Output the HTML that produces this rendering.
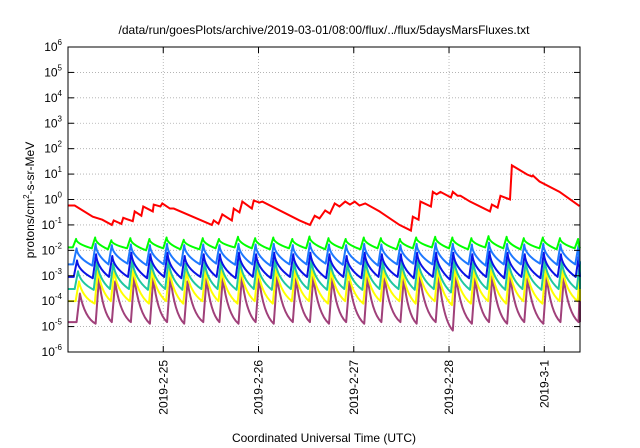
<!DOCTYPE html>
<html><head><meta charset="utf-8"><style>
html,body{margin:0;padding:0;background:#fff;}
svg{display:block;font-family:"Liberation Sans",sans-serif;}
</style></head><body>
<svg id="chart" width="640" height="448" viewBox="0 0 640 448" xmlns="http://www.w3.org/2000/svg">
<rect width="640" height="448" fill="#fff"/>
<text x="324" y="34" font-size="12" text-anchor="middle">/data/run/goesPlots/archive/2019-03-01/08:00/flux/../flux/5daysMarsFluxes.txt</text>
<text x="324" y="442" font-size="12" text-anchor="middle">Coordinated Universal Time (UTC)</text>
<text transform="translate(34,200) rotate(-90)" font-size="12" text-anchor="middle">protons/cm<tspan font-size="8" dy="-5">2</tspan><tspan dy="5">-s-sr-MeV</tspan></text>
<g id="grid"></g><g id="series"></g><g id="axes"></g>
</svg>
<script>
const xTickLabels=["2019-2-25","2019-2-26","2019-2-27","2019-2-28","2019-3-1"];
const xTickDays=[1,2,3,4,5];
const yTickExps=[-6,-5,-4,-3,-2,-1,0,1,2,3,4,5,6];
const redDays=[0,0.07,0.26,0.36,0.46,0.48,0.56,0.58,0.68,0.70,0.77,0.79,0.89,0.90,0.97,0.99,1.07,1.11,1.51,1.53,1.58,1.62,1.72,1.74,1.80,1.83,1.93,1.95,2.01,2.04,2.43,2.54,2.59,2.64,2.70,2.75,2.80,2.85,2.91,2.96,3.01,3.06,3.12,3.27,3.48,3.60,3.62,3.68,3.70,3.81,3.83,3.87,3.91,4.02,4.04,4.09,4.12,4.22,4.43,4.45,4.51,4.54,4.64,4.66,4.82,4.87,4.88,4.95,5.16,5.37];
const redVals=[0.58,0.58,0.21,0.16,0.10,0.15,0.11,0.19,0.14,0.34,0.23,0.53,0.34,0.63,0.53,0.70,0.44,0.44,0.10,0.15,0.11,0.26,0.15,0.44,0.31,0.83,0.44,0.91,0.76,0.83,0.15,0.10,0.23,0.18,0.37,0.28,0.70,0.53,0.83,0.63,0.83,0.58,0.70,0.34,0.10,0.06,0.21,0.16,0.83,0.53,2.0,1.6,2.0,1.2,2.0,1.4,1.4,0.83,0.34,0.63,0.48,1.4,1.0,22,9.6,8.1,8.8,5.1,2.0,0.55];
const peakDays=[0.05,0.25,0.42,0.62,0.82,1.0,1.18,1.38,1.55,1.75,1.93,2.12,2.32,2.50,2.70,2.88,3.07,3.25,3.45,3.62,3.82,4.0,4.2,4.38,4.57,4.75,4.95,5.13,5.32];
const greenPeak=[0.028,0.032,0.025,0.030,0.028,0.032,0.026,0.030,0.028,0.034,0.030,0.032,0.028,0.035,0.030,0.028,0.032,0.030,0.028,0.032,0.034,0.032,0.030,0.036,0.034,0.030,0.032,0.030,0.028];
const greenLow=[0.013,0.012,0.011,0.012,0.010,0.012,0.011,0.011,0.012,0.013,0.012,0.011,0.012,0.012,0.011,0.012,0.011,0.012,0.011,0.012,0.013,0.012,0.011,0.013,0.012,0.011,0.012,0.011,0.012];
const lblPeak=[0.012,0.018,0.016,0.017,0.016,0.018,0.016,0.017,0.016,0.018,0.017,0.018,0.016,0.019,0.017,0.016,0.018,0.017,0.016,0.018,0.019,0.018,0.017,0.020,0.018,0.017,0.018,0.017,0.016];
const lblLow=[0.0028,0.0025,0.0028,0.003,0.0026,0.0028,0.0025,0.0028,0.003,0.0027,0.0028,0.0025,0.0028,0.0028,0.003,0.0027,0.0028,0.0025,0.0028,0.003,0.0028,0.0026,0.0028,0.0025,0.0028,0.0028,0.003,0.0027,0.0028];
const bluePeak=[0.004,0.007,0.006,0.008,0.007,0.008,0.006,0.007,0.007,0.008,0.007,0.008,0.007,0.008,0.007,0.006,0.008,0.007,0.007,0.008,0.008,0.008,0.007,0.009,0.008,0.007,0.008,0.007,0.007];
const blueLow=[0.0009,0.0008,0.0009,0.0009,0.0008,0.0009,0.0008,0.0009,0.0009,0.0008,0.0009,0.0008,0.0009,0.0009,0.0008,0.0009,0.0008,0.0009,0.0009,0.0008,0.0009,0.0007,0.0008,0.0009,0.0008,0.0009,0.0008,0.0009,0.0009];
const tealPeak=[0.0015,0.0035,0.003,0.004,0.0035,0.004,0.003,0.0035,0.0035,0.004,0.0035,0.004,0.0035,0.004,0.0035,0.003,0.004,0.0035,0.0035,0.004,0.004,0.004,0.0035,0.0045,0.004,0.0035,0.004,0.0035,0.0035];
const tealLow=[0.0003,0.00028,0.0003,0.0003,0.00028,0.0003,0.00028,0.0003,0.0003,0.00028,0.0003,0.00028,0.0003,0.0003,0.00028,0.0003,0.00028,0.0003,0.0003,0.00028,0.0003,0.00022,0.00028,0.0003,0.00028,0.0003,0.00028,0.0003,0.0003];
const yelPeak=[0.0006,0.0018,0.0015,0.002,0.0018,0.002,0.0015,0.0018,0.0018,0.002,0.0018,0.002,0.0018,0.002,0.0018,0.0015,0.002,0.0018,0.0018,0.002,0.002,0.002,0.0018,0.0022,0.002,0.0018,0.002,0.0018,0.0018];
const yelLow=[0.0001,0.00008,0.0001,0.0001,0.00008,0.0001,0.00008,0.0001,0.0001,0.00008,0.0001,0.00008,0.0001,0.0001,0.00008,0.0001,0.00008,0.0001,0.0001,0.00008,0.0001,0.00007,0.00008,0.0001,0.00008,0.0001,0.00008,0.0001,0.0001];
const purPeak=[0.0002,0.0008,0.0006,0.0009,0.0008,0.0009,0.0006,0.0008,0.0008,0.0009,0.0008,0.0009,0.0008,0.0009,0.0008,0.0006,0.0009,0.0008,0.0008,0.0009,0.0009,0.0009,0.0008,0.001,0.0009,0.0008,0.0009,0.0008,0.0008];
const purLow=[0.000015,0.000013,0.000015,0.000015,0.000013,0.000015,0.000013,0.000015,0.000015,0.000013,0.000015,0.000013,0.000015,0.000015,0.000013,0.000015,0.000013,0.000015,0.000015,0.000013,0.000015,0.000007,0.000013,0.000015,0.000013,0.000015,0.000013,0.000015,0.000015];

const L=68,R=580,T=47,B=352,D0=0,D1=5.375,E0=-6,E1=6;
const xs=d=>L+(d-D0)/(D1-D0)*(R-L);
const ys=v=>B-(Math.log10(v)-E0)/(E1-E0)*(B-T);
const NS="http://www.w3.org/2000/svg";
function mk(tag,parent){const e=document.createElementNS(NS,tag);parent.appendChild(e);return e;}
const grid=document.getElementById('grid'),axes=document.getElementById('axes'),ser=document.getElementById('series');
yTickExps.forEach(e=>{
  const y=ys(Math.pow(10,e));
  if(e>E0&&e<E1){const g=mk('line',grid);
  
  
  g.setAttribute('x1',L);g.setAttribute('x2',R);g.setAttribute('y1',y);g.setAttribute('y2',y);g.setAttribute('stroke','#aaa');g.setAttribute('stroke-dasharray','1,2');g.setAttribute('stroke-width','0.8');}
  const t=mk('text',axes);
  
  
  t.setAttribute('x',L-6);t.setAttribute('y',y+4);t.setAttribute('font-size','12');t.setAttribute('text-anchor','end');
  t.innerHTML='10<tspan font-size="8" dy="-6">'+e+'</tspan>';
  [[L,L+6],[R-6,R]].forEach(p=>{const k=mk('line',axes);
  
  
  k.setAttribute('x1',p[0]);k.setAttribute('x2',p[1]);k.setAttribute('y1',y);k.setAttribute('y2',y);k.setAttribute('stroke','#000');});
});
xTickDays.forEach((d,i)=>{
  const x=xs(d);
  const g=mk('line',grid);
  
  
  g.setAttribute('x1',x);g.setAttribute('x2',x);g.setAttribute('y1',T);g.setAttribute('y2',B);g.setAttribute('stroke','#aaa');g.setAttribute('stroke-dasharray','1,2');g.setAttribute('stroke-width','0.8');
  [[B,B-6],[T,T+6]].forEach(p=>{const k=mk('line',axes);
  
  
  k.setAttribute('x1',x);k.setAttribute('x2',x);k.setAttribute('y1',p[0]);k.setAttribute('y2',p[1]);k.setAttribute('stroke','#000');});
  const t=mk('text',axes);
  
  
  t.setAttribute('transform','translate('+(x+4)+','+(B+8)+') rotate(-90)');
  t.setAttribute('font-size','12');t.setAttribute('text-anchor','end');
  t.textContent=xTickLabels[i];
});
const frame=mk('rect',axes);


frame.setAttribute('x',L);frame.setAttribute('y',T);frame.setAttribute('width',R-L);frame.setAttribute('height',B-T);frame.setAttribute('fill','none');frame.setAttribute('stroke','#000');

function saw(peaks,lows,color,name,lag,curve){
  const rise=0.035;
  let d='M'+xs(D0)+','+ys(lows[0]);
  for(let i=0;i<peakDays.length;i++){
    const t0=Math.min(peakDays[i]+lag,D1);
    const tp=Math.min(t0+rise,D1);
    const tn=i+1<peakDays.length?Math.min(peakDays[i+1]+lag,D1):D1;
    const lowNext=i+1<lows.length?lows[i+1]:lows[i];
    const xp=xs(tp),yp=ys(peaks[i]),xn=xs(tn),yn=ys(lowNext);
    d+=' L'+xs(t0)+','+ys(lows[i])+' L'+xp+','+yp;
    const cx=xp+(xn-xp)*curve, cy=yp+(yn-yp)*(0.5+curve);
    d+=' Q'+cx+','+Math.min(cy,yn)+' '+xn+','+yn;
  }
  const p=mk('path',ser);
  
  
  p.setAttribute('d',d);p.setAttribute('fill','none');p.setAttribute('stroke',color);p.setAttribute('stroke-width','2');p.setAttribute('stroke-linejoin','round');
}
saw(purPeak,purLow,'#a0407a','series-purple',0.04,0.3);
saw(yelPeak,yelLow,'#ffff00','series-yellow',0.03,0.2);
saw(tealPeak,tealLow,'#20c8a0','series-teal',0.02,0.12);
saw(bluePeak,blueLow,'#0a14e6','series-blue',0.01,0.05);
saw(lblPeak,lblLow,'#1e78ff','series-light-blue',0.005,0.02);
saw(greenPeak,greenLow,'#00ff00','series-green',0,0);
const rp=mk('polyline',ser);


rp.setAttribute('points',redDays.map((d,i)=>xs(d)+','+ys(redVals[i])).join(' '));
rp.setAttribute('fill','none');rp.setAttribute('stroke','#ff0000');rp.setAttribute('stroke-width','2');
</script>
</body></html>
